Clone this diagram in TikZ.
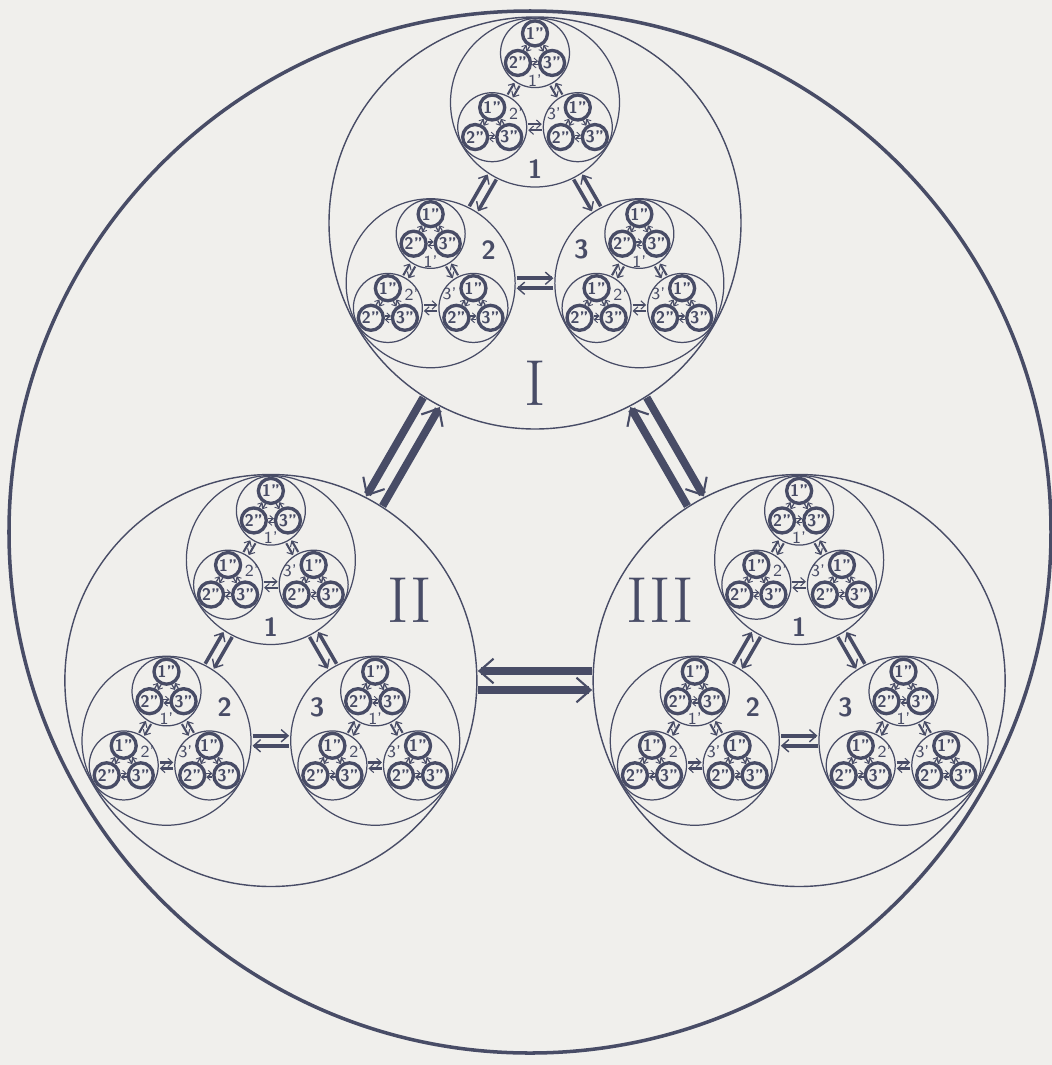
\documentclass[tikz,border=0pt]{standalone}
\usepackage{fontspec}
\usetikzlibrary{calc,arrows.meta}
\definecolor{ink}{RGB}{72,76,102}
\definecolor{paper}{RGB}{240,239,236}
\newcommand\duplex[5]{%
  \draw[#5] ($(#1)!#4!#3:(#2)$) -- ($(#2)!#4!-#3:(#1)$);
  \draw[#5] ($(#2)!#4!#3:(#1)$) -- ($(#1)!#4!-#3:(#2)$);}
\tikzset{
  ring0/.style={circle, draw, line width=1pt, minimum size=10.42cm, inner sep=0pt},
  ring1/.style={circle, draw, line width=0.4pt, minimum size=4.12cm, inner sep=0pt},
  ring2/.style={circle, draw, line width=0.35pt, minimum size=1.69cm, inner sep=0pt},
  ring3/.style={circle, draw, line width=0.35pt, minimum size=0.69cm, inner sep=0pt},
  ring4/.style={circle, draw, line width=0.95pt, minimum size=0.25cm, inner sep=0pt, font=\fontsize{4.8}{4.8}\selectfont\sffamily\bfseries},
  numI/.style={font=\fontsize{18.5}{18.5}\selectfont},
  numII/.style={font=\fontsize{7.5}{7.5}\selectfont\sffamily\bfseries},
  numIII/.style={font=\fontsize{4.8}{4.8}\selectfont\sffamily},
  flow1/.style={line width=2.2pt, shorten <=2.07cm, shorten >=2.07cm, -{Straight Barb[length=4pt,width=7pt,line width=0.6pt]}},
  flow2/.style={line width=1pt, shorten <=0.86cm, shorten >=0.86cm, -{Straight Barb[length=2pt,width=3.5pt,line width=0.4pt]}},
  flow3/.style={line width=0.6pt, shorten <=0.36cm, shorten >=0.36cm, -{Straight Barb[length=1.3pt,width=2.4pt,line width=0.3pt]}},
  flow4/.style={line width=0.35pt, shorten <=0.14cm, shorten >=0.14cm, -{Straight Barb[length=1pt,width=1.8pt,line width=0.25pt]}}
}
\begin{document}
\begin{tikzpicture}[color=ink]
\fill[paper] (0,0) rectangle (10.52,-10.65);
\useasboundingbox (0,0) rectangle (10.52,-10.65);
\node[ring0] (c0) at (5.30,-5.32) {};
\coordinate (m) at (5.35,-5.28);
\foreach \i/\a/\rom in {1/90/I,2/210/II,3/330/III}{
  \node[ring1] (c\i) at ($(m)+(\a:3.05)$) {};
  \node[numI] (t\i) at ($(c\i)+(\a+180:1.6)$) {\rom};
  \foreach \j/\b in {1/90,2/210,3/330}{
    \node[ring2] (c\i\j) at ($(c\i)+(\b:1.205)$) {};
    \node[numII] (t\i\j) at ($(c\i\j)+(\b+180:0.67)$) {\j};
    \foreach \k/\g in {1/90,2/210,3/330}{
      \node[ring3] (c\i\j\k) at ($(c\i\j)+(\g:0.494)$) {};
      \node[numIII] (t\i\j\k) at ($(c\i\j\k)+(\g+180:0.275)$) {\k'};
      \foreach \l/\h in {1/90,2/210,3/330}
        \node[ring4] (c\i\j\k\l) at ($(c\i\j\k)+(\h:0.197)$) {\l"};
      \foreach \p/\q/\s in {1/2/90,1/3/270,2/3/90}
        {\duplex{c\i\j\k\p}{c\i\j\k\q}{\s}{0.018cm}{flow4}}
    }
    \foreach \p/\q/\s in {1/2/90,1/3/270,2/3/90}
      {\duplex{c\i\j\p}{c\i\j\q}{\s}{0.03cm}{flow3}}
  }
  \foreach \p/\q/\s in {1/2/90,1/3/270,2/3/90}
    {\duplex{c\i\p}{c\i\q}{\s}{0.05cm}{flow2}}
}
\foreach \p/\q/\s in {1/2/270,1/3/90,2/3/270}
  {\duplex{c\p}{c\q}{\s}{0.095cm}{flow1}}
\end{tikzpicture}
\end{document}
